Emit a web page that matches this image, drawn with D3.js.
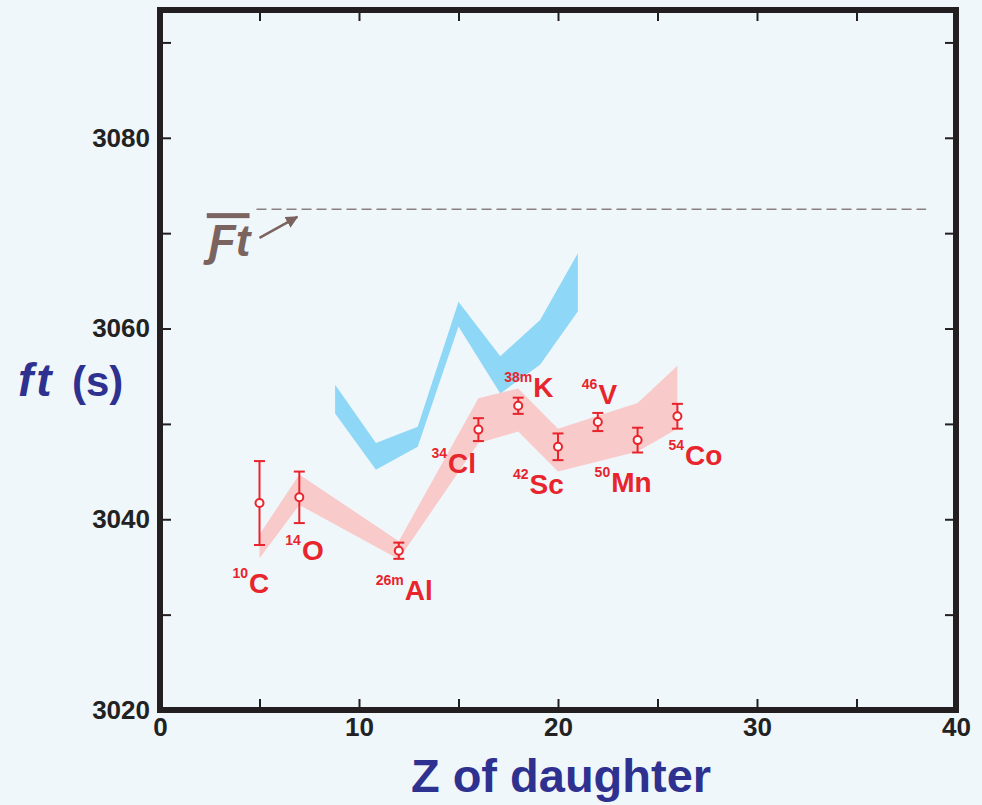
<!DOCTYPE html>
<html>
<head>
<meta charset="utf-8">
<script src="https://cdn.jsdelivr.net/npm/d3@7"></script>
<style>
  body { margin: 0; background: #eff7fa; }
  svg { display: block; }
</style>
</head>
<body>
<div id="chart"></div>
<script>
// measured points (Z of daughter, ft value, error)
var pointZ   = [5, 7, 12, 16, 18, 20, 22, 24, 26];
var pointFt  = [3041.7, 3042.3, 3036.7, 3049.4, 3051.9, 3047.6, 3050.2, 3048.3, 3050.8];
var pointErr = [4.4, 2.7, 0.85, 1.2, 0.85, 1.4, 0.95, 1.3, 1.3];
var massNum  = ["10", "14", "26m", "34", "38m", "42", "46", "50", "54"];
var element  = ["C", "O", "Al", "Cl", "K", "Sc", "V", "Mn", "Co"];

// pink band (calculated, Tz = 0 cases)
var pinkZ     = [5, 7, 12, 16, 18, 20, 24, 26];
var pinkUpper = [3038.4, 3044.7, 3037.7, 3052.7, 3053.7, 3049.5, 3052.2, 3056.1];
var pinkLower = [3035.9, 3041.5, 3035.8, 3048.0, 3049.2, 3045.0, 3047.1, 3049.5];

// blue band (calculated, Tz = -1 cases)
var blueZ     = [8.8, 10.85, 12.95, 15, 17.1, 19.1, 21];
var blueUpper = [3054.1, 3048.0, 3049.7, 3062.8, 3057.1, 3060.9, 3067.9];
var blueLower = [3051.1, 3045.2, 3047.6, 3060.2, 3053.2, 3056.2, 3061.8];

// average Ft line
var ftAvg = 3072.5;
var ftLineZ = [4.85, 38.5];

var xTicks = [0, 5, 10, 15, 20, 25, 30, 35, 40];
var yTicks = [3020, 3030, 3040, 3050, 3060, 3070, 3080, 3090];

// label offsets in px from each point (superscript start, main baseline)
var labelOffset = [[-27, 90], [-14, 63], [-23, 49], [-47, 43], [-14, -9],
                   [-45, 47], [-16, -18], [-43, 52], [-9, 49]];

var W = 982, H = 805;
var margin = {top: 10, right: 26, bottom: 95, left: 160};

var svg = d3.select("#chart")
  .append("svg")
    .attr("width", W)
    .attr("height", H);

svg.append("rect")
  .attr("width", W)
  .attr("height", H)
  .attr("fill", "#eff7fa");

var x = d3.scaleLinear()
  .domain([0, 40])
  .range([margin.left, W - margin.right]);

var y = d3.scaleLinear()
  .domain([3020, 3093.4])
  .range([H - margin.bottom, margin.top]);

var font = "'Liberation Sans', Arial, sans-serif";
var red = "#e8242c";

// bands
var band = d3.area()
  .x(d => x(d.z))
  .y0(d => y(d.lo))
  .y1(d => y(d.hi));

var blueData = blueZ.map((z, i) => ({z: z, lo: blueLower[i], hi: blueUpper[i]}));
var pinkData = pinkZ.map((z, i) => ({z: z, lo: pinkLower[i], hi: pinkUpper[i]}));

svg.append("path")
  .datum(blueData)
  .attr("d", band)
  .attr("fill", "#8fd7f6");

svg.append("path")
  .datum(pinkData)
  .attr("d", band)
  .attr("fill", "#f9caca");

// dashed average line
svg.append("line")
  .attr("x1", x(ftLineZ[0]))
  .attr("x2", x(ftLineZ[1]))
  .attr("y1", y(ftAvg))
  .attr("y2", y(ftAvg))
  .attr("stroke", "#8a8080")
  .attr("stroke-width", 1.5)
  .attr("stroke-dasharray", "10,5");

// Ft label and arrow
var brown = "#7b6460";
svg.append("defs").append("marker")
  .attr("id", "arrow")
  .attr("viewBox", "0 0 10 10")
  .attr("refX", 9)
  .attr("refY", 5)
  .attr("markerWidth", 5)
  .attr("markerHeight", 5)
  .attr("orient", "auto")
  .append("path")
    .attr("d", "M0,0 L10,5 L0,10 Z")
    .attr("fill", brown);

svg.append("line")
  .attr("x1", x(5.0))
  .attr("y1", y(3069.5))
  .attr("x2", x(6.9))
  .attr("y2", y(3071.7))
  .attr("stroke", brown)
  .attr("stroke-width", 2.5)
  .attr("marker-end", "url(#arrow)");

svg.append("rect")
  .attr("x", x(2.35))
  .attr("y", y(3072.1))
  .attr("width", x(4.5) - x(2.35))
  .attr("height", 5)
  .attr("fill", brown);

svg.append("text")
  .attr("x", x(2.45))
  .attr("y", y(3067.6))
  .attr("font-family", font)
  .attr("font-weight", "bold")
  .attr("font-style", "italic")
  .attr("font-size", 44)
  .attr("fill", brown)
  .text("\u0191t");

// error bars
var pts = pointZ.map((z, i) => ({z: z, v: pointFt[i], e: pointErr[i], i: i}));
var eb = svg.selectAll(".eb")
  .data(pts)
  .enter()
  .append("g")
    .attr("class", "eb");

eb.append("line")
  .attr("x1", d => x(d.z))
  .attr("x2", d => x(d.z))
  .attr("y1", d => y(d.v - d.e))
  .attr("y2", d => y(d.v + d.e))
  .attr("stroke", red)
  .attr("stroke-width", 2);

eb.selectAll(".cap")
  .data(d => [{z: d.z, v: d.v - d.e}, {z: d.z, v: d.v + d.e}])
  .enter()
  .append("line")
    .attr("x1", d => x(d.z) - 5.5)
    .attr("x2", d => x(d.z) + 5.5)
    .attr("y1", d => y(d.v))
    .attr("y2", d => y(d.v))
    .attr("stroke", red)
    .attr("stroke-width", 2);

eb.append("circle")
  .attr("cx", d => x(d.z))
  .attr("cy", d => y(d.v))
  .attr("r", 4)
  .attr("fill", "#fff")
  .attr("stroke", red)
  .attr("stroke-width", 2);

// isotope labels
var lab = svg.selectAll(".iso")
  .data(pts)
  .enter()
  .append("text")
    .attr("class", "iso")
    .attr("x", d => x(d.z) + labelOffset[d.i][0])
    .attr("y", d => y(d.v) + labelOffset[d.i][1])
    .attr("font-family", font)
    .attr("font-weight", "bold")
    .attr("fill", red);

lab.append("tspan")
  .attr("font-size", 14)
  .attr("dy", -15)
  .text(d => massNum[d.i]);

lab.append("tspan")
  .attr("font-size", 28)
  .attr("dy", 15)
  .attr("dx", 1)
  .text(d => element[d.i]);

// axes with inward ticks
function styleAxis(g) {
  g.select(".domain").remove();
  g.selectAll(".tick line")
    .attr("stroke", "#231f20")
    .attr("stroke-width", 2);
  g.selectAll(".tick text")
    .attr("font-family", font)
    .attr("font-weight", "bold")
    .attr("font-size", 26)
    .attr("fill", "#222");
}

svg.append("g")
  .attr("transform", "translate(0," + y(3020) + ")")
  .call(d3.axisBottom(x)
    .tickValues(xTicks)
    .tickSize(-11)
    .tickPadding(8)
    .tickFormat(d => d % 10 === 0 ? d : ""))
  .call(styleAxis);

svg.append("g")
  .attr("transform", "translate(0," + y(3093.4) + ")")
  .call(d3.axisTop(x).tickValues(xTicks).tickSize(-11).tickFormat(""))
  .call(styleAxis);

svg.append("g")
  .attr("transform", "translate(" + x(0) + ",0)")
  .call(d3.axisLeft(y)
    .tickValues(yTicks)
    .tickSize(-11)
    .tickPadding(10)
    .tickFormat(d => d % 20 === 0 ? d : ""))
  .call(styleAxis);

svg.append("g")
  .attr("transform", "translate(" + x(40) + ",0)")
  .call(d3.axisRight(y).tickValues(yTicks).tickSize(-11).tickFormat(""))
  .call(styleAxis);

// frame
svg.append("rect")
  .attr("x", x(0))
  .attr("y", y(3093.4))
  .attr("width", x(40) - x(0))
  .attr("height", y(3020) - y(3093.4))
  .attr("fill", "none")
  .attr("stroke", "#231f20")
  .attr("stroke-width", 6);

// axis titles
var navy = "#2e3190";
svg.append("text")
  .attr("x", 561)
  .attr("y", 792)
  .attr("text-anchor", "middle")
  .attr("font-family", font)
  .attr("font-weight", "bold")
  .attr("font-size", 47)
  .attr("fill", navy)
  .text("Z of daughter");

var yt = svg.append("text")
  .attr("x", 18)
  .attr("y", 396)
  .attr("font-family", font)
  .attr("font-weight", "bold")
  .attr("font-size", 42)
  .attr("fill", navy);
yt.append("tspan")
  .attr("font-style", "italic")
  .attr("font-size", 46)
  .attr("letter-spacing", 3)
  .text("ft");
yt.append("tspan")
  .attr("x", 72)
  .text("(s)");
</script>
</body>
</html>
